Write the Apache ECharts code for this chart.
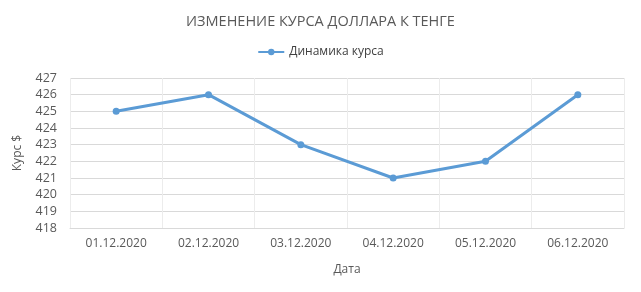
<!DOCTYPE html>
<html><head><meta charset="utf-8">
<script src="https://cdn.jsdelivr.net/npm/echarts@6/dist/echarts.min.js"></script>
<style>html,body{margin:0;padding:0;background:#fff}#c{width:641px;height:292px}</style>
</head><body><div id="c"></div>
<script>
const categories = ['01.12.2020','02.12.2020','03.12.2020','04.12.2020','05.12.2020','06.12.2020'];
const rateValues = [425, 426, 423, 421, 422, 426];
const seriesName = 'Динамика курса';
const titleText = 'ИЗМЕНЕНИЕ КУРСА ДОЛЛАРА К ТЕНГЕ';
const yMin = 418, yMax = 427, yStep = 1;

const font = '"Open Sans", "Noto Sans", sans-serif';
const chart = echarts.init(document.getElementById('c'), null, {renderer:'canvas'});
chart.setOption({
  animation:false,
  title:{text:titleText,left:'center',top:9,textStyle:{fontFamily:font,fontSize:14.5,fontWeight:'normal',color:'#595959'}},
  legend:{top:41,left:'center',itemWidth:26,itemHeight:8,textStyle:{fontFamily:font,fontSize:12,color:'#404040'},data:[seriesName]},
  grid:{left:70,right:17,top:78,bottom:64,containLabel:false},
  xAxis:{type:'category',data:categories,boundaryGap:true,
    name:'Дата',nameLocation:'middle',nameGap:36,nameTextStyle:{fontFamily:font,fontSize:12,color:'#595959'},
    axisLine:{lineStyle:{color:'#d9d9d9'}},axisTick:{show:false},
    axisLabel:{fontFamily:font,fontSize:12,color:'#595959',margin:10},
    splitLine:{show:true,lineStyle:{color:'#ececec'}}},
  yAxis:{type:'value',min:yMin,max:yMax,interval:yStep,
    name:'Курс $',nameLocation:'middle',nameGap:46,nameRotate:90,nameTextStyle:{fontFamily:font,fontSize:12,color:'#595959'},
    axisLine:{show:false},axisTick:{show:false},
    axisLabel:{fontFamily:font,fontSize:12.5,color:'#595959',margin:13},
    splitLine:{lineStyle:{color:'#d9d9d9'}}},
  series:[{name:seriesName,type:'line',data:rateValues,symbol:'circle',symbolSize:7,
    lineStyle:{color:'#5B9BD5',width:3},itemStyle:{color:'#5B9BD5'}}]
});
</script></body></html>
